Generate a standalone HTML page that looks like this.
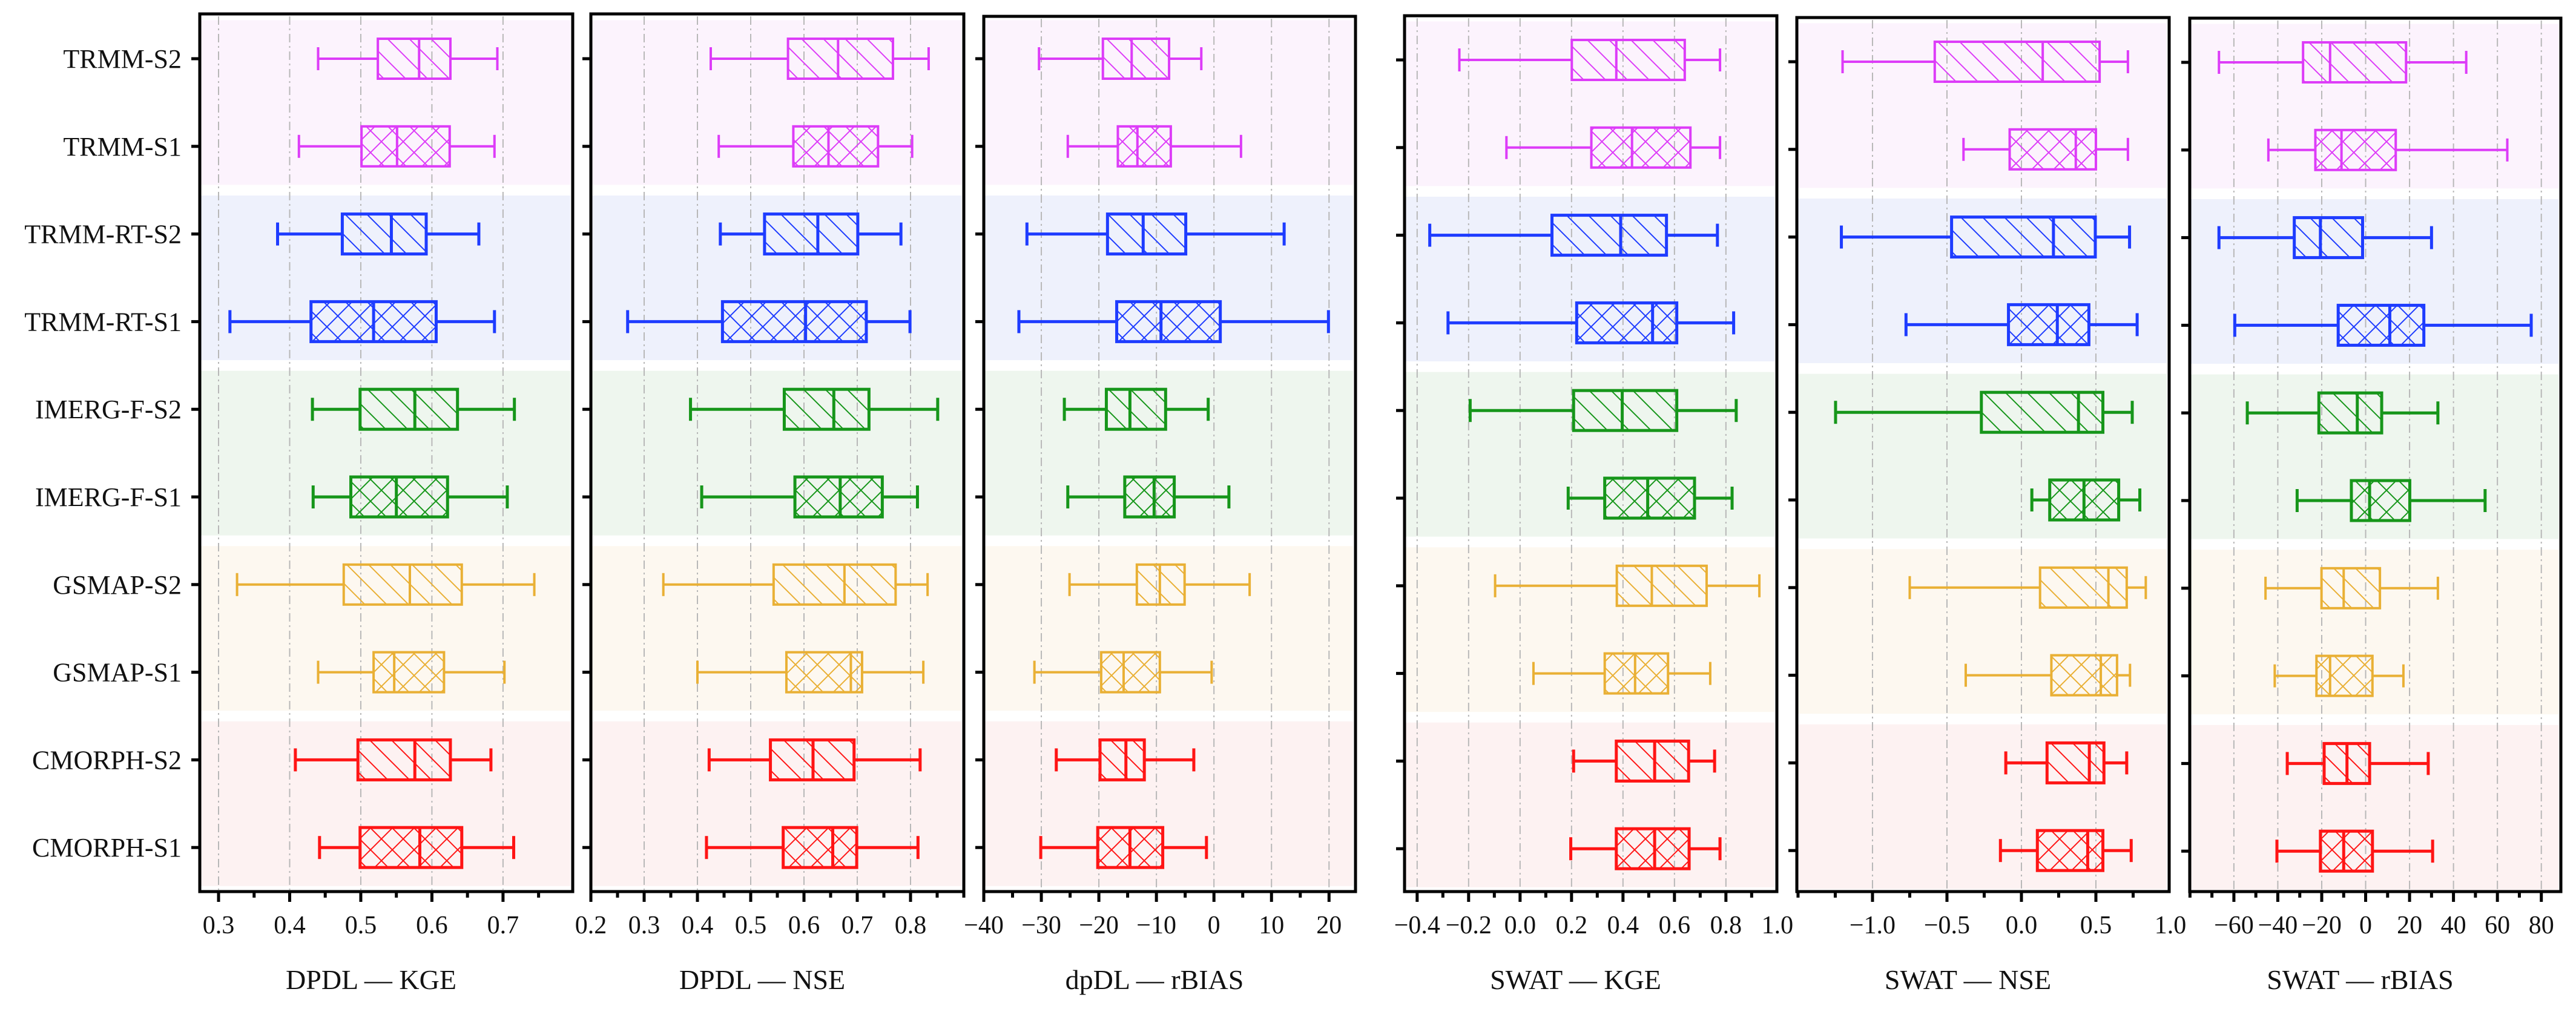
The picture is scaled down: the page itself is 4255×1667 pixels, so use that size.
<!DOCTYPE html>
<html><head><meta charset="utf-8"><style>
html,body{margin:0;padding:0;background:#fff;}
svg{display:block;}
text{font-family:"Liberation Serif",serif;fill:#111;}
</style></head><body>
<svg id="chart" width="4255" height="1667" viewBox="0 0 4255 1667" xmlns="http://www.w3.org/2000/svg">
<defs id="defs"></defs>
</svg>
<script>
const categories = ["TRMM-S2","TRMM-S1","TRMM-RT-S2","TRMM-RT-S1","IMERG-F-S2","IMERG-F-S1","GSMAP-S2","GSMAP-S1","CMORPH-S2","CMORPH-S1"];
// each row: [whiskerMin, q1, median, q3, whiskerMax]
const dpdlKGE = [[0.440,0.524,0.582,0.626,0.692],[0.413,0.501,0.551,0.625,0.688],[0.383,0.474,0.543,0.592,0.666],[0.316,0.430,0.518,0.606,0.688],[0.432,0.499,0.576,0.636,0.716],[0.433,0.486,0.550,0.622,0.706],[0.326,0.476,0.569,0.642,0.744],[0.440,0.518,0.547,0.617,0.702],[0.408,0.496,0.576,0.626,0.683],[0.442,0.499,0.583,0.642,0.715]];
const dpdlNSE = [[0.425,0.570,0.664,0.767,0.834],[0.440,0.580,0.646,0.739,0.803],[0.443,0.526,0.626,0.701,0.782],[0.269,0.447,0.603,0.717,0.799],[0.387,0.563,0.656,0.722,0.851],[0.408,0.583,0.668,0.747,0.813],[0.336,0.543,0.676,0.772,0.832],[0.400,0.567,0.688,0.709,0.824],[0.422,0.537,0.617,0.694,0.818],[0.417,0.561,0.654,0.699,0.814]];
const dpdlBIAS = [[-30.4,-19.3,-14.3,-7.8,-2.2],[-25.4,-16.7,-13.3,-7.5,4.7],[-32.5,-18.5,-12.3,-4.9,12.2],[-33.9,-16.9,-9.2,1.1,19.9],[-26.0,-18.7,-14.6,-8.4,-1.0],[-25.4,-15.5,-10.4,-6.9,2.6],[-25.1,-13.4,-9.4,-5.1,6.2],[-31.2,-19.6,-15.7,-9.4,-0.4],[-27.4,-19.8,-15.3,-12.1,-3.5],[-30.1,-20.2,-14.6,-8.9,-1.3]];
const swatKGE = [[-0.236,0.201,0.374,0.640,0.777],[-0.053,0.277,0.435,0.662,0.777],[-0.351,0.124,0.391,0.569,0.767],[-0.280,0.220,0.515,0.609,0.830],[-0.194,0.208,0.397,0.609,0.840],[0.187,0.329,0.496,0.678,0.824],[-0.097,0.376,0.512,0.725,0.930],[0.052,0.329,0.447,0.575,0.739],[0.208,0.374,0.523,0.655,0.756],[0.197,0.374,0.523,0.657,0.777]];
const swatNSE = [[-1.201,-0.582,0.143,0.525,0.715],[-0.389,-0.079,0.365,0.500,0.715],[-1.209,-0.469,0.215,0.496,0.726],[-0.775,-0.087,0.241,0.453,0.777],[-1.248,-0.269,0.383,0.547,0.744],[0.070,0.190,0.420,0.653,0.795],[-0.750,0.125,0.584,0.707,0.835],[-0.374,0.201,0.533,0.642,0.729],[-0.105,0.172,0.456,0.554,0.707],[-0.141,0.107,0.445,0.547,0.737]];
const swatBIAS = [[-66.8,-28.5,-16.2,18.4,45.8],[-44.3,-22.9,-11.0,13.7,64.5],[-66.8,-32.5,-20.6,-1.4,30.0],[-59.6,-12.5,11.0,26.5,75.4],[-53.9,-21.3,-3.8,7.3,32.9],[-31.2,-6.5,1.8,20.1,54.4],[-45.6,-20.1,-10.0,6.5,32.9],[-41.4,-22.4,-16.2,3.1,17.2],[-35.7,-18.9,-8.5,1.8,28.5],[-40.4,-20.6,-10.0,3.1,30.5]];
const ticksKGE1 = [0.3,0.4,0.5,0.6,0.7];
const ticksNSE1 = [0.2,0.3,0.4,0.5,0.6,0.7,0.8];
const ticksBIAS1 = [-40,-30,-20,-10,0,10,20];
const ticksKGE2 = [-0.4,-0.2,0.0,0.2,0.4,0.6,0.8,1.0];
const ticksNSE2 = [-1.0,-0.5,0.0,0.5,1.0];
const ticksBIAS2 = [-60,-40,-20,0,20,40,60,80];
const titles = ["DPDL \u2014 KGE","DPDL \u2014 NSE","dpDL \u2014 rBIAS","SWAT \u2014 KGE","SWAT \u2014 NSE","SWAT \u2014 rBIAS"];

const NS="http://www.w3.org/2000/svg";
const svg=document.getElementById('chart');
const defs=document.getElementById('defs');
function mk(tag,attrs,parent){const e=document.createElementNS(NS,tag);for(const k in attrs)e.setAttribute(k,attrs[k]);(parent||svg).appendChild(e);return e;}

const colors=["#dd3cf8","#dd3cf8","#1e3cff","#1e3cff","#16961a","#16961a","#e9b035","#e9b035","#ff1515","#ff1515"];
const bandColors=["#fcf3fd","#eef1fc","#eef6ee","#fdf8f0","#fdf2f2"];
const strokeW=[4,4,5,5,5,5,4,4,5,5];
colors.forEach((c,i)=>{
  const p=mk('pattern',{id:'hp'+i,patternUnits:'userSpaceOnUse',width:36,height:36},defs);
  mk('path',{d:'M-9,-9 L45,45 M-9,27 L9,45 M27,-9 L45,9',stroke:c,'stroke-width':2,fill:'none'},p);
  if(i%2===1) mk('path',{d:'M-9,45 L45,-9 M-9,9 L9,-9 M27,45 L45,27',stroke:c,'stroke-width':2,fill:'none'},p);
});

const panels=[
 {data:dpdlKGE,ticks:ticksKGE1,minor:0.05,L:330,R:946,top:23,y0:97,dmin:0.2736,dmax:0.798,fmt:v=>v.toFixed(1)},
 {data:dpdlNSE,ticks:ticksNSE1,minor:0.05,L:976,R:1592,top:23,y0:97,dmin:0.2,dmax:0.9,fmt:v=>v.toFixed(1)},
 {data:dpdlBIAS,ticks:ticksBIAS1,minor:5,L:1625,R:2239,top:27,y0:97,dmin:-40,dmax:24.6,fmt:v=>String(v)},
 {data:swatKGE,ticks:ticksKGE2,minor:0.1,L:2320,R:2935,top:26,y0:99,dmin:-0.449,dmax:0.998,fmt:v=>v.toFixed(1)},
 {data:swatNSE,ticks:ticksNSE2,minor:0.25,L:2968,R:3583,top:29,y0:102,dmin:-1.508,dmax:0.992,fmt:v=>v.toFixed(1)},
 {data:swatBIAS,ticks:ticksBIAS2,minor:10,L:3617,R:4230,top:30,y0:103,dmin:-80.1,dmax:88.9,fmt:v=>String(v)}
];
const BOTTOM=1473, PITCH=144.8, BOXH=66, CAP=38;

panels.forEach((P,pi)=>{
  const g=mk('g',{});
  
  
  const xs=v=>P.L+(v-P.dmin)/(P.dmax-P.dmin)*(P.R-P.L);
  const ys=i=>P.y0+i*PITCH;
  for(let b=0;b<5;b++){
    const c=(ys(2*b)+ys(2*b+1))/2;
    const r=mk('rect',{x:P.L+2,y:c-136,width:P.R-P.L-6,height:272,fill:bandColors[b]},g);
    
    
  }
  P.ticks.forEach(t=>{const x=xs(t);if(x>P.L+3&&x<P.R-3){const l=mk('line',{x1:x,x2:x,y1:P.top+4,y2:BOTTOM-3,stroke:'#b8b8b8','stroke-width':2,'stroke-dasharray':'14,6,3,6'},g);}});
  P.data.forEach((d,i)=>{
    const y=ys(i),c=colors[i],sw=strokeW[i];
    const bg=mk('g',{},g);
    
    
    mk('line',{x1:xs(d[0]),x2:xs(d[1]),y1:y,y2:y,stroke:c,'stroke-width':sw},bg);
    mk('line',{x1:xs(d[3]),x2:xs(d[4]),y1:y,y2:y,stroke:c,'stroke-width':sw},bg);
    mk('line',{x1:xs(d[0]),x2:xs(d[0]),y1:y-CAP/2,y2:y+CAP/2,stroke:c,'stroke-width':sw},bg);
    mk('line',{x1:xs(d[4]),x2:xs(d[4]),y1:y-CAP/2,y2:y+CAP/2,stroke:c,'stroke-width':sw},bg);
    mk('rect',{x:xs(d[1]),y:y-BOXH/2,width:xs(d[3])-xs(d[1]),height:BOXH,fill:'url(#hp'+i+')',stroke:c,'stroke-width':sw},bg);
    mk('line',{x1:xs(d[2]),x2:xs(d[2]),y1:y-BOXH/2,y2:y+BOXH/2,stroke:c,'stroke-width':sw},bg);
    mk('line',{x1:P.L-14,x2:P.L,y1:y,y2:y,stroke:'#000','stroke-width':5},g);
    if(pi===0){const t=mk('text',{x:300,y:y+15,'font-size':44,'text-anchor':'end'},g);t.textContent=categories[i];}
  });
  const f=mk('rect',{x:P.L,y:P.top,width:P.R-P.L,height:BOTTOM-P.top,fill:'none',stroke:'#000','stroke-width':5},g);
  
  
  const start=Math.ceil(P.dmin/P.minor-1e-6);
  for(let k=start;k*P.minor<=P.dmax+1e-6;k++){
    const v=k*P.minor,x=xs(v);
    const isMajor=P.ticks.some(t=>Math.abs(t-v)<1e-6);
    mk('line',{x1:x,x2:x,y1:BOTTOM,y2:BOTTOM+(isMajor?17:10),stroke:'#000','stroke-width':5},g);
  }
  P.ticks.forEach(t=>{const tx=mk('text',{x:xs(t),y:1542,'font-size':42,'text-anchor':'middle'},g);tx.textContent=P.fmt(t).replace('-','\u2212');});
  const tt=mk('text',{x:(P.L+P.R)/2-25,y:1634,'font-size':46,'text-anchor':'middle'},g);
  tt.textContent=titles[pi];
  
  
});
</script>
</body></html>
